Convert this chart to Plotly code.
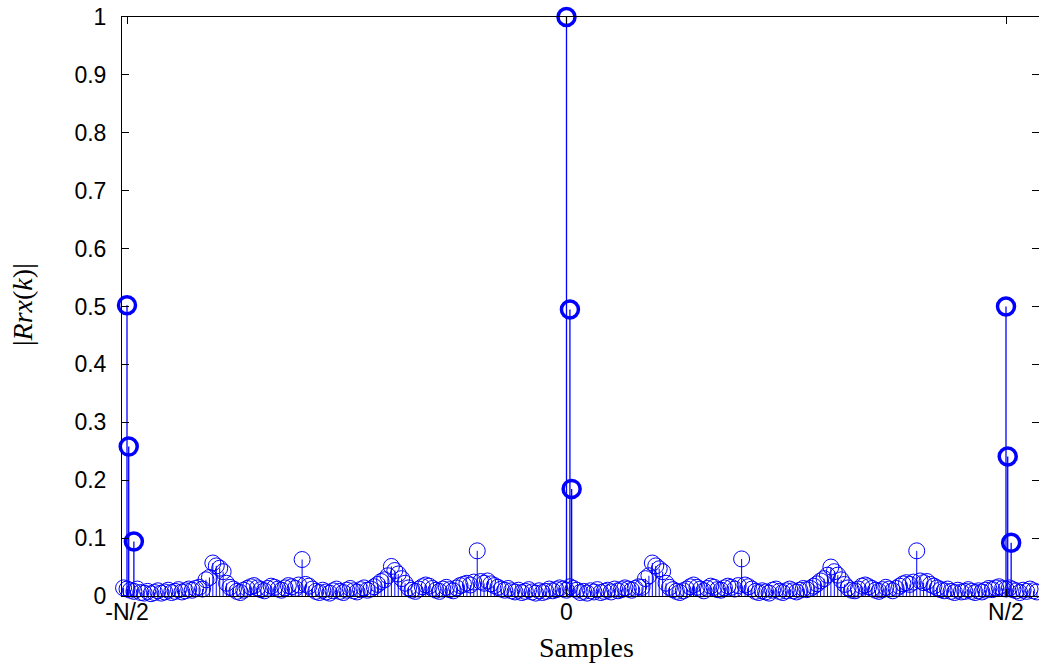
import plotly.graph_objects as go

# ---------------- data ----------------
# main correlation peaks (sample index, |Rrx(k)|)
peak_k = [-256, -255, -252, 0, 2, 3, 256, 257, 259]
peak_v = [0.502, 0.258, 0.094, 1.0, 0.495, 0.185, 0.500, 0.241, 0.092]

# residual correlation floor, read every 2nd sample from k = -258 to 276
seg_a = [0.014, 0.012, 0.010, 0.008, 0.012, 0.006, 0.005, 0.008, 0.004, 0.006,
         0.009, 0.005, 0.007, 0.010, 0.006, 0.008, 0.011, 0.007, 0.009, 0.012,
         0.010, 0.013, 0.015, 0.012]
seg_b = [0.028, 0.032, 0.057, 0.052, 0.048, 0.042, 0.022, 0.015]
seg_c = [0.012, 0.008, 0.006, 0.010, 0.013, 0.016, 0.018, 0.014, 0.011, 0.009,
         0.013, 0.017, 0.015, 0.012, 0.010, 0.014, 0.018, 0.016, 0.013, 0.019,
         0.063]
seg_d = [0.020, 0.017, 0.012, 0.008, 0.006, 0.010, 0.007, 0.005, 0.009, 0.012,
         0.008, 0.006, 0.010, 0.013, 0.009, 0.007, 0.011, 0.014, 0.010, 0.012,
         0.016]
seg_e = [0.020, 0.025, 0.028, 0.035, 0.051, 0.044, 0.038, 0.030, 0.022]
seg_f = [0.014, 0.010, 0.008, 0.012, 0.016, 0.019, 0.017, 0.013, 0.010, 0.008,
         0.012, 0.015, 0.011, 0.009, 0.014, 0.018, 0.020, 0.022, 0.019, 0.024,
         0.078]
seg_g = [0.025, 0.022, 0.026, 0.021, 0.018, 0.015, 0.012, 0.010, 0.013, 0.009,
         0.007, 0.010, 0.006, 0.008, 0.011, 0.007, 0.005, 0.009, 0.006, 0.008,
         0.012, 0.009, 0.011, 0.014, 0.012, 0.010]
seg_h = [0.016, 0.013, 0.010, 0.006, 0.008, 0.005, 0.009, 0.007, 0.011, 0.006,
         0.008, 0.010, 0.007, 0.012, 0.009, 0.011, 0.014, 0.012, 0.010, 0.013,
         0.016, 0.015]
seg_i = [0.030, 0.035, 0.057, 0.052, 0.047, 0.042, 0.022, 0.015]
seg_j = [0.011, 0.008, 0.006, 0.009, 0.012, 0.016, 0.019, 0.015, 0.012, 0.009,
         0.013, 0.017, 0.015, 0.011, 0.010, 0.014, 0.017, 0.015, 0.012, 0.018,
         0.064]
seg_k = [0.019, 0.016, 0.012, 0.008, 0.006, 0.009, 0.007, 0.005, 0.010, 0.012,
         0.008, 0.006, 0.009, 0.012, 0.009, 0.007, 0.010, 0.013, 0.011, 0.013,
         0.017]
seg_l = [0.021, 0.026, 0.030, 0.036, 0.050, 0.042, 0.036, 0.028, 0.020]
seg_m = [0.014, 0.010, 0.009, 0.012, 0.017, 0.019, 0.016, 0.013, 0.010, 0.008,
         0.011, 0.015, 0.012, 0.009, 0.013, 0.017, 0.021, 0.023, 0.020, 0.024,
         0.078]
seg_n = [0.026, 0.023, 0.025, 0.020, 0.017, 0.014, 0.011, 0.009, 0.012, 0.008,
         0.006, 0.010, 0.007, 0.008, 0.011, 0.008, 0.006, 0.009, 0.007, 0.010,
         0.013, 0.011, 0.014, 0.016, 0.013, 0.012]
seg_o = [0.014, 0.011, 0.009, 0.006, 0.010, 0.008, 0.012, 0.009, 0.007, 0.010]

floor_v = (seg_a + seg_b + seg_c + seg_d + seg_e + seg_f + seg_g + seg_h
           + seg_i + seg_j + seg_k + seg_l + seg_m + seg_n + seg_o)
floor_k = list(range(-258, -258 + 2 * len(floor_v), 2))

N_HALF = 256
x_tickvals = [-N_HALF, 0, N_HALF]
x_ticktext = ["-N/2", "0", "N/2"]
y_tickvals = [i / 10 for i in range(11)]
y_ticktext = ["0"] + [f"{v:.1f}" for v in y_tickvals[1:-1]] + ["1"]

BLUE = "#0000ff"


def stems(ks, vs):
    xs, ys = [], []
    for k, v in zip(ks, vs):
        xs += [k, k, None]
        ys += [0, v, None]
    return xs, ys


fig = go.Figure()

sx, sy = stems(floor_k, floor_v)
fig.add_trace(go.Scatter(x=sx, y=sy, mode="lines", line=dict(color=BLUE, width=1),
                         hoverinfo="skip", cliponaxis=False, showlegend=False))
fig.add_trace(go.Scatter(x=floor_k, y=floor_v, mode="markers",
                         marker=dict(symbol="circle-open", size=16, color=BLUE,
                                     line=dict(width=1, color=BLUE)),
                         cliponaxis=False, showlegend=False))

px_, py_ = stems(peak_k, peak_v)
fig.add_trace(go.Scatter(x=px_, y=py_, mode="lines", line=dict(color=BLUE, width=1.3),
                         hoverinfo="skip", cliponaxis=False, showlegend=False))
fig.add_trace(go.Scatter(x=peak_k, y=peak_v, mode="markers",
                         marker=dict(symbol="circle-open", size=17, color=BLUE,
                                     line=dict(width=3.5, color=BLUE)),
                         cliponaxis=False, showlegend=False))

# invisible trace so the right-hand tick axis is created
fig.add_trace(go.Scatter(x=[], y=[], yaxis="y2", showlegend=False))

W, H = 1039, 663
L, R, T, B = 122, 0, 17, 67
plot_w = W - L - R
plot_h = H - T - B
px_per_sample = (1006.5 - 127.5) / (2 * N_HALF)
x0 = -(566.5 - L) / px_per_sample
x1 = (W - 566.5) / px_per_sample

tick_font = dict(family="Liberation Sans, Arial, sans-serif", size=23, color="black")

fig.update_layout(
    width=W, height=H,
    margin=dict(l=L, r=R, t=T, b=B, autoexpand=False),
    plot_bgcolor="white", paper_bgcolor="white",
    xaxis=dict(range=[x0, x1], tickvals=x_tickvals, ticktext=x_ticktext,
               ticks="inside", ticklen=7, tickwidth=1, tickcolor="black",
               showline=True, linecolor="black", linewidth=1, mirror="ticks",
               showgrid=False, zeroline=False, tickfont=tick_font,
               ticklabelstandoff=-5),
    yaxis=dict(range=[0, 1], tickvals=y_tickvals, ticktext=y_ticktext,
               ticks="inside", ticklen=7, tickwidth=1, tickcolor="black",
               showline=True, linecolor="black", linewidth=1, mirror=False,
               showgrid=False, zeroline=False, tickfont=tick_font,
               ticklabelstandoff=10),
    yaxis2=dict(range=[0, 1], overlaying="y", side="right", tickvals=y_tickvals,
                ticks="inside", ticklen=7, tickwidth=1, tickcolor="black",
                showline=False, showgrid=False, zeroline=False,
                showticklabels=False),
    annotations=[
        dict(text="Samples", xref="paper", yref="paper",
             x=(586 - L) / plot_w, y=(596 - 647) / plot_h,
             xanchor="center", yanchor="middle", showarrow=False,
             font=dict(family="Liberation Serif, Times New Roman, serif", size=28,
                       color="black")),
        dict(text="|<i>Rrx</i>(<i>k</i>)|", xref="paper", yref="paper",
             x=(22 - L) / plot_w, y=(596 - 305) / plot_h, textangle=-90,
             xanchor="center", yanchor="middle", showarrow=False,
             font=dict(family="Liberation Serif, Times New Roman, serif", size=28,
                       color="black")),
    ],
)

fig.write_html("out.html")
